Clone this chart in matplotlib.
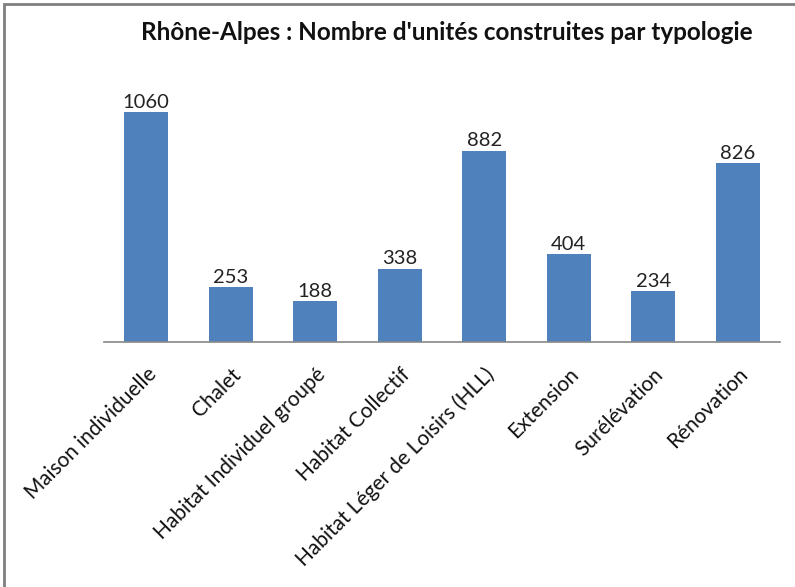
import matplotlib.pyplot as plt
from matplotlib.patches import Rectangle

# Data
categories = [
    "Maison individuelle",
    "Chalet",
    "Habitat Individuel groupé",
    "Habitat Collectif",
    "Habitat Léger de Loisirs (HLL)",
    "Extension",
    "Surélévation",
    "Rénovation",
]
values = [1060, 253, 188, 338, 882, 404, 234, 826]
title = "Rhône-Alpes : Nombre d'unités construites par typologie"

plt.rcParams["font.family"] = ["Lato", "DejaVu Sans"]

fig = plt.figure(figsize=(7.95, 5.87), dpi=100)
ax = fig.add_axes([0.1308, 0.4174, 0.8504, 0.4804])

x = range(len(categories))
bars = ax.bar(x, values, width=0.52, color="#4F81BD")
for b, v in zip(bars, values):
    ax.text(b.get_x() + b.get_width() / 2, v + 6, str(v),
            ha="center", va="bottom", fontsize=14.5, color="#222222")

ax.set_xlim(-0.5, len(categories) - 0.5)
ax.set_ylim(0, 1300)
ax.set_xticks(list(x))
ax.set_xticklabels(categories, rotation=45, ha="right", rotation_mode="anchor",
                   fontsize=15, color="#111111")
ax.tick_params(axis="x", length=0, pad=16)
ax.set_yticks([])
for side in ("left", "right", "top"):
    ax.spines[side].set_visible(False)
ax.spines["bottom"].set_color("#888888")
ax.spines["bottom"].set_linewidth(1.2)

fig.text(0.562, 0.944, title, ha="center", va="center",
         fontsize=17.5, fontweight="bold", color="#111111")

# Frame around the chart area
fig.patches.append(Rectangle((0.005, -0.02), 1.1, 1.013, transform=fig.transFigure,
                             fill=False, edgecolor="#7f7f7f", linewidth=2))

fig.savefig("out.png", dpi=100)
